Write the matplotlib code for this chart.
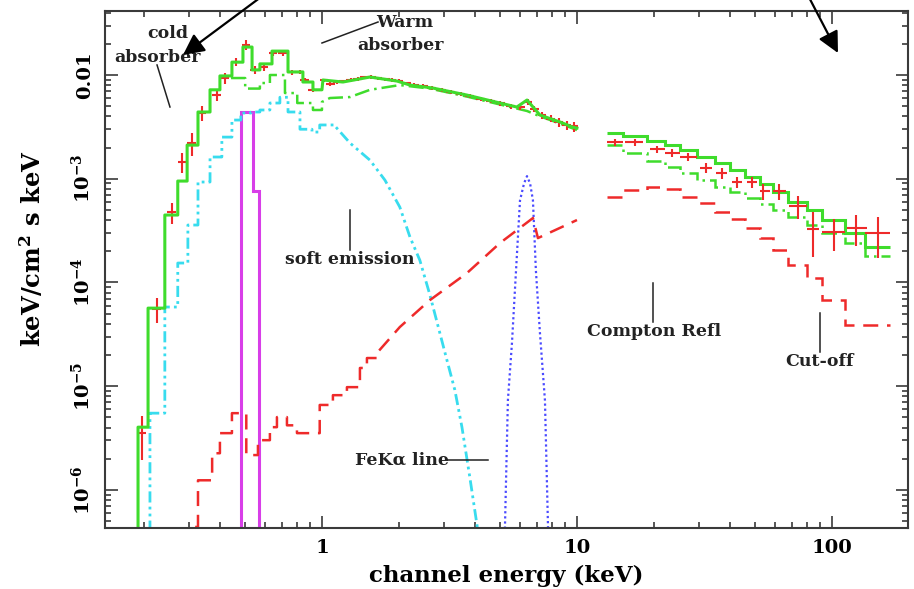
import numpy as np
import matplotlib.pyplot as plt

# --- data (energy in keV, flux in keV^2/cm^2/s/keV) ---

# LECS/MECS data points
lo_e = [0.197, 0.225, 0.258, 0.2835, 0.309, 0.338, 0.387, 0.416, 0.460, 0.504,
        0.546, 0.592, 0.643, 0.703, 0.763, 0.82, 0.858, 0.922,
        1.02, 1.08, 1.15, 1.22, 1.30, 1.38, 1.47, 1.56, 1.66, 1.77, 1.88, 2.00,
        2.15, 2.30, 2.50, 2.70, 2.95, 3.2, 3.5, 3.8, 4.2, 4.6, 5.0, 5.5, 6.0,
        6.4, 6.8, 7.3, 7.9, 8.5, 9.1, 9.7]
lo_f = [3.53e-6, 5.53e-5, 4.77e-4, 1.45e-3, 2.21e-3, 4.3e-3, 6.41e-3, 9.35e-3, 1.33e-2, 1.95e-2,
        1.12e-2, 1.19e-2, 1.63e-2, 1.63e-2, 1.07e-2, 1.07e-2, 8.95e-3, 7.2e-3,
        8.9e-3, 8.2e-3, 8.6e-3, 8.7e-3, 8.9e-3, 9.2e-3, 9.5e-3, 9.6e-3, 9.3e-3, 9.1e-3, 8.9e-3, 8.8e-3,
        8.3e-3, 8.0e-3, 7.8e-3, 7.5e-3, 7.2e-3, 6.9e-3, 6.6e-3, 6.3e-3, 5.9e-3, 5.6e-3, 5.35e-3, 5.0e-3, 4.9e-3,
        5.5e-3, 4.7e-3, 4.1e-3, 3.8e-3, 3.5e-3, 3.3e-3, 3.2e-3]
lo_err = [1.6e-6, 1.5e-5, 1.1e-4, 3.2e-4, 5.5e-4, 7e-4, 7.5e-4, 1.1e-3, 1.2e-3, 2.2e-3,
          9e-4, 9e-4, 1.0e-3, 9e-4, 6e-4, 5e-4, 4e-4, 3e-4,
          3.5e-4, 3.3e-4, 3.4e-4, 3.5e-4, 3.6e-4, 3.7e-4, 3.8e-4, 3.8e-4, 3.7e-4, 3.6e-4, 3.6e-4, 3.5e-4,
          3.3e-4, 3.2e-4, 3.1e-4, 3.0e-4, 2.9e-4, 2.8e-4, 2.8e-4, 2.7e-4, 2.7e-4, 2.8e-4, 2.8e-4, 2.9e-4, 3.0e-4,
          3.3e-4, 3.1e-4, 3.0e-4, 3.0e-4, 3.2e-4, 3.3e-4, 3.5e-4]

# PDS data points
pds_e = [14.1, 16.9, 20.6, 23.6, 27.2, 32.1, 37.0, 42.4, 48.6, 53.6, 62.0, 73.6, 84.2, 101.8, 124.2, 151.4]
pds_lo = [13.1, 15.5, 19.3, 22.1, 25.3, 30.4, 35.2, 40.5, 46.5, 52.2, 58.7, 68.0, 79.8, 91.4, 114.5, 134.7]
pds_hi = [15.15, 18.1, 22.1, 25.3, 29.6, 33.8, 38.7, 44.5, 51.0, 57.0, 66.0, 80.0, 88.7, 112.5, 137.5, 168.9]
pds_f = [2.26e-3, 2.26e-3, 1.93e-3, 1.77e-3, 1.62e-3, 1.27e-3, 1.135e-3, 9.3e-4, 9.3e-4, 7.6e-4,
         7.6e-4, 5.45e-4, 3.27e-4, 3.06e-4, 3.35e-4, 2.99e-4]
pds_err = [1.8e-4, 1.8e-4, 1.5e-4, 1.5e-4, 1.4e-4, 1.4e-4, 1.3e-4, 1.1e-4, 1.1e-4, 1.3e-4,
           1.3e-4, 1.36e-4, 1.5e-4, 1.03e-4, 1.12e-4, 1.28e-4]

# total model, low energy (binned part + fine part)
tot_edges = [0.190, 0.208, 0.242, 0.272, 0.296, 0.3265, 0.364, 0.398, 0.4436, 0.490,
             0.532, 0.571, 0.637, 0.736, 0.842, 0.922, 1.0]
tot_vals = [4.03e-6, 5.66e-5, 4.47e-4, 9.5e-4, 2.11e-3, 4.4e-3, 7.2e-3, 9.8e-3, 1.33e-2,
            1.86e-2, 1.12e-2, 1.28e-2, 1.70e-2, 1.07e-2, 8.56e-3, 7.2e-3]
tot_e = [1.009, 1.209, 1.543, 1.968, 2.214, 2.72, 3.70, 4.99, 5.81, 6.37, 7.16, 8.59, 9.6, 10.0]
tot_f = [8.95e-3, 8.56e-3, 9.56e-3, 8.75e-3, 8.0e-3, 7.49e-3, 6.41e-3, 5.37e-3, 4.91e-3,
         5.74e-3, 4.11e-3, 3.52e-3, 3.15e-3, 3.08e-3]

# absorbed power law, low energy
pl_edges = [0.44, 0.50, 0.571, 0.625, 0.716, 0.80, 0.922, 1.0]
pl_vals = [9.35e-3, 7.4e-3, 8.37e-3, 1.0e-2, 6.7e-3, 5.37e-3, 4.6e-3]
pl_e = [1.0, 1.075, 1.288, 1.543, 2.02, 2.65, 3.7, 4.99, 6.37, 7.16, 8.59, 10.0]
pl_f = [5.5e-3, 6.0e-3, 6.13e-3, 7.2e-3, 8.0e-3, 7.4e-3, 6.2e-3, 5.2e-3, 4.5e-3, 4.0e-3, 3.4e-3, 2.95e-3]

# soft emission
soft_edges = [0.2116, 0.242, 0.272, 0.298, 0.3265, 0.364, 0.405, 0.4436, 0.481, 0.527,
              0.571, 0.625, 0.684, 0.736, 0.82, 0.914, 0.98, 1.125]
soft_vals = [5.5e-6, 5.8e-5, 1.54e-4, 3.58e-4, 9.3e-4, 1.62e-3, 2.52e-3, 3.68e-3, 4.3e-3,
             4.4e-3, 4.6e-3, 5.37e-3, 6.1e-3, 4.4e-3, 3.0e-3, 2.82e-3, 3.3e-3]
soft_e = [1.125, 1.288, 1.543, 1.766, 2.02, 2.214, 2.42, 2.65, 3.09, 3.32, 3.54, 3.80, 4.09]
soft_f = [3.22e-3, 2.21e-3, 1.51e-3, 9.7e-4, 5.33e-4, 2.74e-4, 1.64e-4, 7.6e-5, 1.79e-5,
          9.2e-6, 4.03e-6, 1.33e-6, 4e-7]

# narrow line near 0.5 keV
ox_edges = [0.481, 0.536, 0.566]
ox_vals = [4.4e-3, 7.6e-4]

# Fe K alpha line
fe_e = [5.10, 5.22, 5.36, 5.56, 5.77, 5.98, 6.20, 6.37, 6.55, 6.72, 6.90, 7.16, 7.49, 7.70, 7.80]
fe_f = [1e-7, 4.4e-7, 7.3e-6, 2.6e-5, 1.32e-4, 6.2e-4, 9.0e-4, 1.06e-3, 9.0e-4, 6.2e-4,
        1.32e-4, 3.25e-5, 7.3e-6, 4.4e-7, 1e-7]

# Compton reflection, low energy
refl_edges = [0.2955, 0.3265, 0.371, 0.398, 0.4436, 0.505, 0.561, 0.625, 0.666, 0.729,
              0.798, 0.98, 1.104, 1.253, 1.409, 1.501, 1.643]
refl_vals = [4.4e-7, 1.24e-6, 2.26e-6, 3.53e-6, 5.5e-6, 2.17e-6, 3.02e-6, 4.03e-6, 5.04e-6,
             4.2e-6, 3.53e-6, 6.6e-6, 8.2e-6, 9.8e-6, 1.5e-5, 1.87e-5]
refl_e = [1.643, 2.02, 2.65, 3.70, 4.99, 6.72, 7.03, 10.0]
refl_f = [2.09e-5, 3.72e-5, 6.76e-5, 1.23e-4, 2.4e-4, 4.18e-4, 2.68e-4, 4.0e-4]

# PDS models
pds_edges = [13.1, 15.15, 18.8, 22.1, 25.3, 29.6, 34.8, 39.8, 45.6, 52.2, 58.7, 67.2,
             79.8, 91.4, 112.5, 134.7, 168.9]
pds_tot = [2.76e-3, 2.58e-3, 2.31e-3, 2.11e-3, 1.89e-3, 1.62e-3, 1.42e-3, 1.21e-3,
           1.04e-3, 8.9e-4, 7.4e-4, 5.96e-4, 4.99e-4, 4.0e-4, 2.99e-4, 2.19e-4]
pds_pl = [2.11e-3, 1.77e-3, 1.48e-3, 1.30e-3, 1.135e-3, 9.7e-4, 8.3e-4, 7.4e-4,
          6.5e-4, 5.7e-4, 4.99e-4, 4.27e-4, 3.58e-4, 2.99e-4, 2.4e-4, 1.8e-4]
pds_refl = [6.67e-4, 7.78e-4, 8.3e-4, 8.0e-4, 6.67e-4, 5.8e-4, 4.77e-4, 4.08e-4,
            3.35e-4, 2.7e-4, 2.05e-4, 1.47e-4, 1.1e-4, 6.76e-5, 3.9e-5, 3.9e-5]


def steps(edges, vals):
    x = np.repeat(edges, 2)[1:-1]
    y = np.repeat(vals, 2)
    return x, y


RED = '#ee2a2a'
GREEN = '#3fdc2c'
CYAN = '#38dcee'
BLUE = '#4a4aff'
MAGENTA = '#d83ee8'
FLOOR = 1e-9

plt.rcParams['mathtext.fontset'] = 'dejavuserif'
plt.rcParams['font.family'] = 'DejaVu Serif'

fig = plt.figure(figsize=(9.14, 5.89), dpi=100)
ax = fig.add_axes([105 / 914, 1 - 528 / 589, 803 / 914, 517 / 589])
ax.set_xscale('log')
ax.set_yscale('log')
ax.set_xlim(0.141, 198.7)
ax.set_ylim(4.3e-7, 0.0414)

# soft emission
sx, sy = steps(soft_edges, soft_vals)
ax.plot(np.r_[soft_edges[0], sx, soft_e], np.r_[FLOOR, sy, soft_f], color=CYAN, lw=2,
        ls=(0, (4, 1.5, 1, 1.5, 1, 1.5)))

# Fe line
ax.plot(fe_e, fe_f, color=BLUE, lw=1.6, ls=(0, (1, 1.3)))

# narrow line
ax.stairs(ox_vals, ox_edges, baseline=FLOOR, color=MAGENTA, lw=2.2)

# reflection
rx, ry = steps(refl_edges, refl_vals)
ax.plot(np.r_[refl_edges[0], rx, refl_e], np.r_[FLOOR, ry, refl_f], color=RED, lw=1.8,
        ls=(0, (6, 3.5)))
ax.stairs(pds_refl, pds_edges, baseline=None, color=RED, lw=1.8, ls=(0, (6, 3.5)))

# power law
px, py = steps(pl_edges, pl_vals)
ax.plot(np.r_[px, pl_e], np.r_[py, pl_f], color=GREEN, lw=1.8, ls=(0, (6, 2, 1, 2)))
ax.stairs(pds_pl, pds_edges, baseline=None, color=GREEN, lw=1.8, ls=(0, (6, 2, 1, 2)))

# data
lo_e_a = np.array(lo_e)
ax.errorbar(lo_e, lo_f, xerr=lo_e_a * 0.04, yerr=lo_err, fmt='none', ecolor=RED,
            elinewidth=1.5, capsize=0)
pe = np.array(pds_e)
ax.errorbar(pds_e, pds_f, xerr=[pe - np.array(pds_lo), np.array(pds_hi) - pe], yerr=pds_err,
            fmt='none', ecolor=RED, elinewidth=1.5, capsize=0)

# total model
tx, ty = steps(tot_edges, tot_vals)
ax.plot(np.r_[tot_edges[0], tx, tot_e], np.r_[FLOOR, ty, tot_f], color=GREEN, lw=2.2)
ax.stairs(pds_tot, pds_edges, baseline=None, color=GREEN, lw=2.2)

# axes cosmetics
for sp in ax.spines.values():
    sp.set_color('#3a3a3a')
    sp.set_linewidth(1.5)
ax.tick_params(which='both', direction='in', top=True, right=True, color='#3a3a3a', width=1.2)
ax.tick_params(which='major', length=9, labelsize=14, pad=8)
ax.tick_params(which='minor', length=4.5)
ax.set_xticks([1, 10, 100])
ax.set_xticklabels(['1', '10', '100'])
ax.set_yticks([1e-6, 1e-5, 1e-4, 1e-3, 1e-2])
ax.set_yticklabels([r'$\mathbf{10^{-6}}$', r'$\mathbf{10^{-5}}$', r'$\mathbf{10^{-4}}$',
                    r'$\mathbf{10^{-3}}$', '0.01'])
for lab in ax.get_yticklabels() + ax.get_xticklabels():
    lab.set_fontweight('bold')
for lab in ax.get_yticklabels():
    lab.set_rotation(90)
    lab.set_va('center')

ax.set_xlabel('channel energy (keV)', fontsize=16.5, fontweight='bold')
ax.set_ylabel(r'keV/cm$^\mathbf{2}$ s keV', fontsize=17.5, fontweight='bold')
ax.xaxis.set_label_coords(0.5, -0.072)
ax.yaxis.set_label_coords(-0.073, 0.54)

# annotations
tk = dict(transform=ax.transAxes, fontsize=12.5, fontweight='bold', color='#222222')
ax.text(0.0785, 0.9574, 'cold', ha='center', va='center', **tk)
ax.text(0.0648, 0.911, 'absorber', ha='center', va='center', **tk)
ax.text(0.3736, 0.9787, 'Warm', ha='center', va='center', **tk)
ax.text(0.3674, 0.9342, 'absorber', ha='center', va='center', **tk)
ax.text(0.3051, 0.5184, 'soft emission', ha='center', va='center', **tk)
ax.text(0.3113, 0.1315, 'FeKα line', ha='left', va='center', **tk)
ax.text(0.6837, 0.381, 'Compton Refl', ha='center', va='center', **tk)
ax.text(0.8904, 0.3211, 'Cut-off', ha='center', va='center', **tk)

lk = dict(transform=ax.transAxes, color='#222222', lw=1.1, clip_on=False)
ax.plot([0.0648, 0.0809], [0.8956, 0.8143], **lk)
ax.plot([0.2702, 0.34], [0.9381, 0.9787], **lk)
ax.plot([0.3051, 0.3051], [0.6151, 0.5377], **lk)
ax.plot([0.4271, 0.477], [0.1315, 0.1315], **lk)
ax.plot([0.6824, 0.6824], [0.4739, 0.3985], **lk)
ax.plot([0.8904, 0.8904], [0.4159, 0.3404], **lk)

ap = dict(arrowstyle='-|>', color='black', lw=1.6, mutation_scale=32, shrinkA=0, shrinkB=0)
ax.annotate('', xy=(0.0971, 0.9149), xytext=(0.1968, 1.03), xycoords='axes fraction',
            arrowprops=ap, annotation_clip=False)
ax.annotate('', xy=(0.9128, 0.9188), xytext=(0.8755, 1.03), xycoords='axes fraction',
            arrowprops=ap, annotation_clip=False)

fig.savefig('out.png', dpi=100)
